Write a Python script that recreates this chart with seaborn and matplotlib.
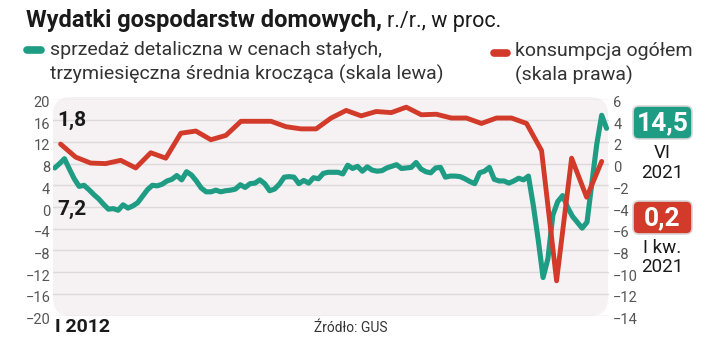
import numpy as np
import matplotlib
matplotlib.use("Agg")
import matplotlib.pyplot as plt
import seaborn as sns
from matplotlib.patches import FancyBboxPatch
from matplotlib.lines import Line2D
from matplotlib.transforms import ScaledTranslation

# sprzedaz detaliczna, srednia 3-mies., I 2012 - VI 2021 (skala lewa)
retail = [7.2, 8.0, 8.9, 7.0, 5.2, 3.8, 4.0, 3.2, 2.3, 1.5,
          0.5, -0.4, -0.3, -0.6, 0.4, -0.2, 0.2, 0.8, 2.0, 3.2,
          4.0, 3.9, 4.2, 4.8, 5.1, 5.8, 5.0, 6.5, 5.9, 4.8,
          3.5, 2.8, 2.8, 3.1, 2.8, 3.0, 3.1, 3.3, 4.1, 3.6,
          4.3, 4.4, 5.0, 4.3, 3.0, 3.3, 4.2, 5.5, 5.6, 5.5,
          4.3, 4.9, 4.4, 5.4, 5.2, 6.2, 6.4, 6.4, 6.4, 6.1,
          7.7, 7.1, 7.5, 6.6, 7.4, 6.8, 6.6, 6.7, 7.2, 7.5,
          7.8, 7.1, 7.2, 7.3, 8.2, 7.0, 6.5, 6.3, 7.2, 7.3,
          5.5, 5.7, 5.7, 5.6, 5.2, 4.7, 4.3, 6.3, 6.6, 7.3,
          5.1, 4.8, 4.8, 4.4, 4.8, 5.3, 5.0, 5.7, 0.3, -6.0,
          -13.0, -9.5, -1.5, 1.0, 2.1, 0.0, -1.7, -2.8, -3.9, -2.8,
          4.5, 11.6, 16.9, 14.5]

# konsumpcja ogolem, I kw. 2012 - I kw. 2021 (skala prawa)
consumption = [1.8, 0.6, 0.05, 0.0, 0.3, -0.4, 1.0, 0.5, 2.8, 3.0,
               2.2, 2.6, 3.9, 3.9, 3.9, 3.4, 3.2, 3.2, 4.2, 4.9,
               4.4, 4.8, 4.7, 5.2, 4.5, 4.55, 4.2, 4.2, 3.7, 4.2,
               4.2, 3.7, 1.2, -10.8, 0.5, -3.1, 0.2]

left_ticks = list(range(-20, 21, 4))
right_ticks = list(range(-14, 7, 2))

GREEN = "#1f9c84"
RED = "#d23a2a"
GRID = "#dcdadb"
TICK = "#555555"
W, H = 720, 364


def fx(x):
    return x / W


def fy(y):
    return 1 - y / H


sns.set_theme(style="white")
plt.rcParams["font.family"] = ["Roboto", "DejaVu Sans"]

fig = plt.figure(figsize=(7.2, 3.64), dpi=100)
fig.patch.set_facecolor("white")

# rounded light background behind the plot
bg = FancyBboxPatch((fx(53), fy(316)), fx(608) - fx(53), fy(97) - fy(316),
                    boxstyle="round,pad=0,rounding_size=0.025",
                    mutation_aspect=W / H, transform=fig.transFigure,
                    fc="#f6f1f3", ec="none", zorder=-5)
fig.patches.append(bg)

ax = fig.add_axes([fx(53), fy(315.5), fx(609) - fx(53), fy(98.5) - fy(315.5)])
ax.set_facecolor("none")
ax2 = ax.twinx()

months = np.arange(len(retail))
quarters = np.linspace(1.2, 112.0, len(consumption))

sns.lineplot(x=months, y=retail, ax=ax, color=GREEN, linewidth=3.7)
sns.lineplot(x=quarters, y=consumption, ax=ax2, color=RED, linewidth=3.5)

ax.set_xlim(-0.35, 113.5)
ax.set_ylim(-20, 20)
ax2.set_ylim(-14, 6)
ax.set_yticks(left_ticks)
ax2.set_yticks(right_ticks)
ax.set_xticks([])
ax.set_xlabel("")
ax.set_ylabel("")
ax2.set_ylabel("")
ax.grid(axis="y", color=GRID, linewidth=1)
ax.grid(axis="x", visible=False)
ax2.grid(False)
for a in (ax, ax2):
    for s in a.spines.values():
        s.set_visible(False)
ax.tick_params(axis="y", length=0, pad=2, labelsize=10.5, labelcolor=TICK)
ax2.tick_params(axis="y", length=0, pad=3, labelsize=10.5, labelcolor=TICK)
shift = ScaledTranslation(0, -0.03, fig.dpi_scale_trans)
for lbl in ax.get_yticklabels() + ax2.get_yticklabels():
    lbl.set_transform(lbl.get_transform() + shift)

# title
fig.text(fx(26), fy(21), "Wydatki gospodarstw domowych,", fontsize=17,
         fontweight="bold", color="#1a1a1a", va="center")
fig.text(fx(387), fy(21), "r./r., w proc.", fontsize=15.5,
         color="#1a1a1a", va="center")

# legend
fig.add_artist(Line2D([fx(27), fx(41)], [fy(50), fy(50)], color=GREEN,
                      linewidth=5.5, solid_capstyle="round",
                      transform=fig.transFigure))
fig.text(fx(50), fy(50), "sprzedaż detaliczna w cenach stałych,",
         fontsize=14, color="#333333", va="center")
fig.text(fx(50), fy(74), "trzymiesięczna średnia krocząca (skala lewa)",
         fontsize=14, color="#333333", va="center")
fig.add_artist(Line2D([fx(494), fx(507)], [fy(53), fy(53)], color=RED,
                      linewidth=5.5, solid_capstyle="round",
                      transform=fig.transFigure))
fig.text(fx(515), fy(51), "konsumpcja ogółem",
         fontsize=14, color="#333333", va="center")
fig.text(fx(515), fy(75), "(skala prawa)",
         fontsize=14, color="#333333", va="center")

# first values on the left
fig.text(fx(57), fy(120), "1,8", fontsize=15, fontweight="bold",
         color="#1a1a1a", va="center")
fig.text(fx(57), fy(209), "7,2", fontsize=15, fontweight="bold",
         color="#1a1a1a", va="center")

# latest values on the right
for (top, bottom, colr, val) in [(106, 139, GREEN, "14,5"), (201, 234, RED, "0,2")]:
    box = FancyBboxPatch((fx(633), fy(bottom)), fx(692) - fx(633),
                         fy(top) - fy(bottom),
                         boxstyle="round,pad=0,rounding_size=0.008",
                         mutation_aspect=W / H, transform=fig.transFigure,
                         fc=colr, ec="#d8d8d8", lw=1.2)
    fig.patches.append(box)
    fig.text(fx(662.5), fy((top + bottom) / 2 + 0.5), val, fontsize=19,
             fontweight="bold", color="white", ha="center", va="center")

fig.text(fx(662.5), fy(153), "VI", fontsize=13.5, color="#1a1a1a",
         ha="center", va="center")
fig.text(fx(662.5), fy(173), "2021", fontsize=13.5, color="#1a1a1a",
         ha="center", va="center")
fig.text(fx(662.5), fy(248), "I kw.", fontsize=13.5, color="#1a1a1a",
         ha="center", va="center")
fig.text(fx(662.5), fy(267), "2021", fontsize=13.5, color="#1a1a1a",
         ha="center", va="center")

# bottom
fig.text(fx(55), fy(327), "I 2012", fontsize=14, fontweight="semibold",
         color="#1a1a1a", va="center")
fig.text(fx(351), fy(328), "Źródło: GUS", fontsize=10, color="#333333",
         ha="center", va="center")

fig.savefig("out.png", dpi=100)
